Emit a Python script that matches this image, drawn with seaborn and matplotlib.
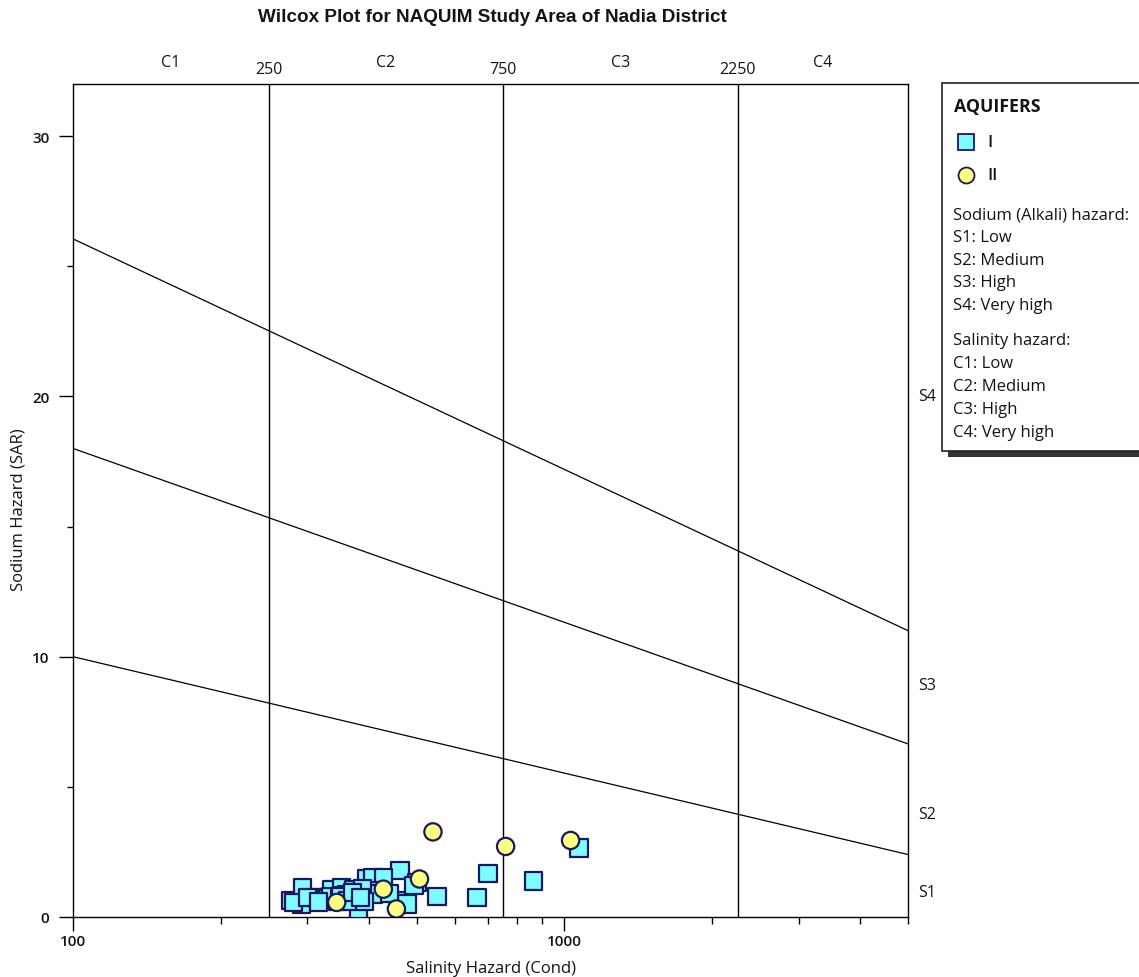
import numpy as np
import pandas as pd
import seaborn as sns
import matplotlib
matplotlib.use("Agg")
import matplotlib.pyplot as plt
from matplotlib.lines import Line2D
from matplotlib.patches import Rectangle
from matplotlib.ticker import LogLocator, FixedLocator, NullFormatter, FuncFormatter

# ---- sample data: conductivity (uS/cm) and SAR by aquifer ----
cond_aq1 = [277, 293, 292, 281, 312, 326, 336, 352, 373, 367, 381, 396, 419, 406,
            355, 463, 408, 428, 419, 408, 471, 478, 501, 494, 550, 664, 699, 864,
            1071, 320, 340, 345, 300, 360, 388, 392, 440, 330, 335, 348, 350, 362,
            370, 385, 316]
sar_aq1 = [0.63, 1.11, 0.47, 0.56, 0.76, 0.76, 1.04, 1.14, 1.07, 0.69, 0.31, 1.46, 1.39, 1.01,
           0.82, 1.78, 1.52, 1.52, 1.01, 0.88, 0.63, 0.50, 1.33, 1.20, 0.79, 0.76, 1.66, 1.38,
           2.65, 0.65, 0.70, 0.60, 0.75, 0.85, 1.10, 0.60, 0.90, 0.70, 0.80, 0.72, 0.78, 0.62,
           0.95, 0.75, 0.58]
cond_aq2 = [540, 759, 1029, 507, 428, 344, 455]
sar_aq2 = [3.27, 2.71, 2.94, 1.46, 1.07, 0.56, 0.31]

aquifer_names = ["I", "II"]

# salinity class boundaries and labels
salinity_bounds = [250, 750, 2250]
salinity_classes = ["C1", "C2", "C3", "C4"]

# sodium hazard boundary lines: SAR at conductivity 100 and 5000
boundary_cond = [100, 5000]
boundary_s1s2 = [10.0, 2.4]
boundary_s2s3 = [18.0, 6.65]
boundary_s3s4 = [26.05, 11.0]
sodium_classes = ["S1", "S2", "S3", "S4"]
sodium_label_sar = [0.96, 3.95, 8.9, 20.0]

x_min, x_max = 100, 5000
y_min, y_max = 0, 32

df = pd.DataFrame({
    "Cond": cond_aq1 + cond_aq2,
    "SAR": sar_aq1 + sar_aq2,
    "Aquifer": [aquifer_names[0]] * len(cond_aq1) + [aquifer_names[1]] * len(cond_aq2),
})

sns.set_theme(style="white")
plt.rcParams["font.family"] = ["Open Sans", "DejaVu Sans"]

W, H = 1139, 978
fig = plt.figure(figsize=(W / 100, H / 100), dpi=100)
ax = fig.add_axes([73 / W, 1 - 918 / H, (908 - 73) / W, (918 - 85) / H])

edge_col = "#181860"
fill_sq = "#7ffcff"
fill_ci = "#ffff80"
text_col = "#141414"

# hazard lines
for v in salinity_bounds:
    ax.axvline(v, color="black", lw=1.0, zorder=1)
for line in (boundary_s1s2, boundary_s2s3, boundary_s3s4):
    sns.lineplot(x=boundary_cond, y=line, ax=ax, color="black", lw=0.9, zorder=1)

sns.scatterplot(
    data=df, x="Cond", y="SAR", hue="Aquifer", style="Aquifer",
    markers={"I": "s", "II": "o"},
    palette={"I": fill_sq, "II": fill_ci},
    s=155, edgecolor=edge_col, linewidth=1.6, legend=False, ax=ax, zorder=3,
)

ax.set_xscale("log")
ax.set_xlim(x_min, x_max)
ax.set_ylim(y_min, y_max)

# axis ticks
ax.xaxis.set_major_locator(FixedLocator([100, 1000]))
ax.xaxis.set_major_formatter(FuncFormatter(lambda v, p: f"{int(v)}"))
ax.xaxis.set_minor_locator(LogLocator(base=10, subs=np.arange(2, 10)))
ax.xaxis.set_minor_formatter(NullFormatter())
ax.yaxis.set_major_locator(FixedLocator([0, 10, 20, 30]))
ax.yaxis.set_minor_locator(FixedLocator([5, 15, 25]))
ax.tick_params(axis="both", which="major", direction="out", length=10, width=1,
               color="black", labelsize=11, labelcolor=text_col,
               left=True, bottom=True)
ax.tick_params(axis="x", which="minor", direction="out", length=5, width=1,
               color="black", bottom=True)
ax.tick_params(axis="y", which="minor", direction="out", length=4, width=1,
               color="black", left=True)
ax.tick_params(axis="y", which="major", pad=7)
ax.tick_params(axis="x", which="major", pad=2)
for lab in ax.get_xticklabels() + ax.get_yticklabels():
    lab.set_fontweight("semibold")
for sp in ax.spines.values():
    sp.set_color("black")
    sp.set_linewidth(1.0)

ax.set_xlabel("Salinity Hazard (Cond)", fontsize=12, color=text_col, labelpad=9)
ax.set_ylabel("Sodium Hazard (SAR)", fontsize=12, color=text_col)
ax.yaxis.set_label_coords(-0.056, 0.49)

# salinity class labels along the top
xt = ax.get_xaxis_transform()
edges = [x_min] + salinity_bounds + [x_max]
for i, name in enumerate(salinity_classes):
    mid = np.sqrt(edges[i] * edges[i + 1])
    ax.text(mid, 1.0264, name, transform=xt, ha="center", va="center",
            fontsize=11.5, color=text_col)
for v in salinity_bounds:
    ax.text(v, 1.018, f"{v}", transform=xt, ha="center", va="center",
            fontsize=11.5, color=text_col)

# sodium class labels along the right
yt = ax.get_yaxis_transform()
for name, sv in zip(sodium_classes, sodium_label_sar):
    ax.text(1.012, sv, name, transform=yt, ha="left", va="center",
            fontsize=11.5, color=text_col)

fig.text(492 / W, 1 - 18 / H, "Wilcox Plot for NAQUIM Study Area of Nadia District",
         ha="center", va="center", fontsize=13.6, fontweight="bold",
         family=["Liberation Sans", "DejaVu Sans"], color=text_col)

# legend panel
def fx(px):
    return px / W

def fy(py):
    return 1 - py / H

shadow = Rectangle((fx(948), fy(458)), fx(W + 10) - fx(948), fy(84) - fy(90),
                   transform=fig.transFigure, facecolor="#333333", edgecolor="none", zorder=0)
box = Rectangle((fx(942), fy(452)), fx(W + 10) - fx(942), fy(84) - fy(452),
                transform=fig.transFigure, facecolor="white", edgecolor="#222222",
                lw=1.2, zorder=1)
fig.add_artist(shadow)
fig.add_artist(box)

fig.text(fx(954), fy(107), "AQUIFERS", ha="left", va="center", fontsize=12.8,
         fontweight="bold", color=text_col, zorder=2)
fig.add_artist(Line2D([fx(966)], [fy(143)], marker="s", markersize=11.5,
                      markerfacecolor=fill_sq, markeredgecolor=edge_col,
                      markeredgewidth=1.3, transform=fig.transFigure, zorder=2))
fig.text(fx(987), fy(143), aquifer_names[0], ha="left", va="center", fontsize=12,
         fontweight="semibold", color=text_col, zorder=2)
fig.add_artist(Line2D([fx(966)], [fy(176)], marker="o", markersize=11.5,
                      markerfacecolor=fill_ci, markeredgecolor=edge_col,
                      markeredgewidth=1.3, transform=fig.transFigure, zorder=2))
fig.text(fx(987), fy(176), aquifer_names[1], ha="left", va="center", fontsize=12,
         fontweight="semibold", color=text_col, zorder=2)

legend_lines = [
    ("Sodium (Alkali) hazard:", 215),
    ("S1: Low", 238),
    ("S2: Medium", 261),
    ("S3: High", 283),
    ("S4: Very high", 306),
    ("Salinity hazard:", 341),
    ("C1: Low", 364),
    ("C2: Medium", 387),
    ("C3: High", 410),
    ("C4: Very high", 433),
]
for txt, py in legend_lines:
    fig.text(fx(953), fy(py), txt, ha="left", va="center", fontsize=12,
             color=text_col, zorder=2)

fig.savefig("out.png", dpi=100)
